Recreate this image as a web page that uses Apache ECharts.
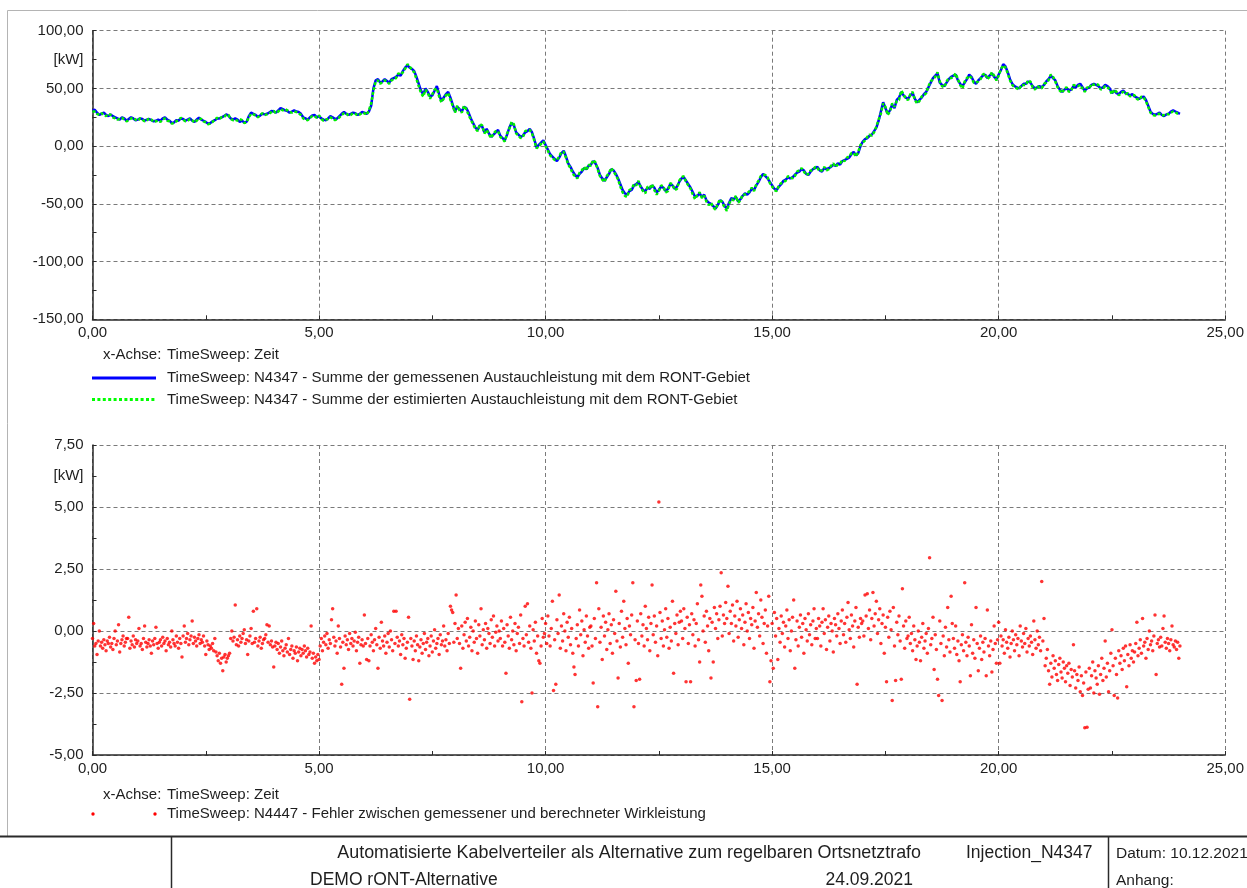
<!DOCTYPE html>
<html>
<head>
<meta charset="utf-8">
<title>TimeSweep N4347</title>
<script src="https://cdn.jsdelivr.net/npm/echarts@6/dist/echarts.min.js"></script>
<style>
  html, body { margin: 0; padding: 0; background: #fff; }
  #chart { width: 1247px; height: 888px; }
</style>
</head>
<body>
<div id="chart"></div>
<script>
// Zeitachse in Stunden
const LINE_STEP_H = 0.05;    // Auflösung der Austauschleistung
const ERROR_STEP_H = 0.025;  // Auflösung des Fehlersignals
const xTicks = [0, 5, 10, 15, 20, 25];

// Summe der gemessenen Austauschleistung [kW], je Zeile eine Stunde, 0,00 h .. 24,00 h
const gemessenKw = [
  31,31.5,29,27,28,29,27,26,27.5,26,25,24,23,25,24,22,23.5,25,24,22.5,
  23,24,23.5,22,23,23.5,22.5,21.5,22,23,22,24,25,23,22,20,20.5,22.5,22,24,
  23.5,22,23,24,22,21,23,24.5,23,22,21,19.5,20,21.5,22.5,24,24,25,26,27.5,
  26.5,24,23,24,23,21,22,20.5,21,26,29,28,27,25.5,26.5,28,27.5,28,29,30.5,
  30,29,31,33,32,31,30.5,29,30,31,30,29.5,28,25,24,23,25,26.5,27,25,
  26,24,23,22.5,24,26,25,23.5,24,26,28,29.5,28,27,28,29,28.5,27,28,29.5,
  29,28,30,35,50,57,58,55,56,58,56.5,55,58,59,60,62,61,65,68,70,
  68,67,65,60,54,48,45,50,47,43,44,48,52,45,39,42,45,47,42,36,
  30,34,32,30,34,33,29,24,20,16,14,18,17,12,15,11,8,10,12,14,
  9,7,5,10,16,20,18,12,10,8,9,12,13,15,12,6,-1,1,3,5,
  1,-3,-7,-9,-11,-13,-10,-6,-4,-9,-15,-18,-22,-25,-27,-24,-22,-19,-20,-17,
  -16,-13,-15,-19,-25,-28,-30,-27,-24,-20,-21,-24,-28,-33,-38,-41,-42,-39,-38,-34,
  -33,-31,-35,-38,-39,-36,-37,-34,-36,-40,-38,-35,-36,-39,-37,-33,-34,-37,-35,-31,
  -28,-27,-30,-33,-36,-40,-44,-43,-41,-44,-42,-47,-49,-50,-52,-54,-51,-47,-48,-52,
  -54,-49,-45,-46,-44,-48,-46,-43,-41,-42,-40,-37,-38,-34,-31,-27,-24,-26,-28,-31,
  -34,-37,-38,-35,-33,-30,-29,-27,-28,-27,-25,-23,-22,-20,-21,-24,-25,-22,-20,-19,
  -18,-21,-22,-19,-20,-19,-18,-16,-17,-15,-16,-13,-12,-11,-10,-7,-5,-8,-6,0,
  4,6,7,9,10,13,16,22,30,38,33,28,31,36,33,40,42,47,44,42,
  41,44,46,41,38,40,42,45,47,51,55,59,61,63,55,53,52,55,58,60,
  61,62,57,54,52,55,58,62,60,56,54,57,59,61,62,59,61,63,60,58,
  62,66,71,69,64,58,54,52,51,50,52,54,54,56,55,52,50,51,52,51,
  53,56,58,61,59,57,52,49,47,49,50,48,49,52,51,53,54,51,48,50,
  51,53,54,53,52,50,51,53,52,50,46,48,46,45,47,48,46,45,44,45,
  43,42,41,42,43,40,35,30,28,27,28,29,27,26,27.5,28,30,31,30,29,
  28
];

// Summe der estimierten Austauschleistung [kW], je Zeile eine Stunde, 0,00 h .. 24,00 h
const estimiertKw = [
  30,30,28,27,28.5,27,26,28,27,25,24,23,23.5,24.5,23,21.5,22.5,24,24.5,23,
  22,24,23,21.5,22.5,24,23,21,21.5,22,21,23.5,24,22,21.5,19.5,20,21.5,22.5,24.5,
  23,21.5,22,23.5,22.5,20.5,22,24,23.5,21.5,20.5,19,19.5,21,23,24.5,23.5,25,25,27,
  27,23.5,22.5,23,22,23.5,22.5,20,20.5,25,28,27.5,26.5,25,27,28.5,27,27.5,28,29.5,
  30.5,28.5,30,32,31,32,31,29.5,29,30,29.5,28.5,27,24,23,22.5,24.5,26,26,24.5,
  26.5,23.5,22,23,23.5,25,24,22.5,23.5,25,27,28.5,28.5,26.5,27,28.5,28,26.5,27.5,29,
  28.5,27,31,37,48,56,57,54,55.5,57,56,54,57,58,59,63,62,64,67,71,
  69,66,64,58,52,46,43,49,46,41,45,49,50,43,38,41,44,46,40,35,
  29,35,31,29,35,32,27,23,19,15,13,19,18,11,14,10,7,11,13,13,
  8,6,4,11,15,21,19,11,9,7,8,13,14,14,11,5,-2,0,2,4,
  0,-4,-8,-10,-12,-12,-9,-5,-5,-10,-16,-19,-24,-26,-28,-23,-21,-18,-21,-16,
  -17,-12,-14,-20,-26,-29,-31,-26,-23,-19,-22,-25,-29,-35,-40,-43,-44,-38,-37,-33,
  -34,-30,-36,-39,-41,-35,-36,-33,-38,-42,-39,-34,-35,-40,-39,-32,-33,-38,-37,-30,
  -27,-26,-31,-34,-37,-42,-46,-42,-40,-45,-43,-48,-51,-49,-53,-55,-50,-46,-49,-53,
  -56,-50,-46,-47,-43,-49,-47,-42,-42,-41,-39,-36,-39,-33,-30,-26,-25,-25,-27,-32,
  -35,-38,-39,-34,-32,-31,-30,-26,-27,-28,-26,-22,-21,-19,-22,-25,-24,-21,-21,-18,
  -19,-22,-21,-18,-21,-20,-17,-15,-18,-16,-15,-12,-13,-10,-9,-6,-6,-9,-5,1,
  3,5,8,10,9,12,17,23,28,37,34,27,30,37,34,39,40,48,45,41,
  40,45,47,40,37,39,43,44,46,52,56,58,60,64,56,52,51,56,59,59,
  60,63,58,53,50,56,59,61,59,55,55,56,58,62,63,58,60,64,61,57,
  61,67,70,68,63,57,53,51,50,49,53,53,53,57,56,51,49,52,51,50,
  54,55,57,62,60,56,51,48,46,50,51,47,48,53,52,52,53,50,47,51,
  50,54,53,54,53,49,50,52,51,49,45,49,47,44,46,47,45,46,43,44,
  44,41,40,43,42,39,34,29,27,26.5,27.5,28,26.5,27,28,27.5,29,30,29.5,28,
  27.5
];

// Fehler zwischen gemessener und berechneter Wirkleistung [kW], je Zeile eine Stunde
const fehlerKw = [
  -0.3,0.3,-0.6,-0.5,-0.95,-0.4,0.0,-0.6,-0.45,-0.7,-0.35,-0.55,-0.8,-0.4,-0.5,-0.25,-0.65,-0.5,-0.75,-0.3,0.0,-0.55,-0.4,0.25,-0.85,-0.5,-0.35,-0.2,-0.6,-0.45,-0.3,-0.3,0.55,-0.7,-0.4,-0.55,-0.2,-0.65,-0.35,-0.5,
  -0.4,0.1,-0.6,-0.5,-0.75,-0.3,0.2,-0.45,-0.65,-0.5,-0.35,-0.6,-0.9,-0.4,-0.55,-0.3,0.15,-0.5,-0.7,-0.45,-0.35,-0.6,-0.25,-0.5,-0.4,-0.8,-0.3,-0.55,-0.45,-0.65,0.0,-0.35,-0.5,-0.6,-0.2,-0.45,-0.7,-0.3,-0.5,-1.05,
  -0.2,0.2,-0.45,-0.3,-0.1,-0.55,-0.35,-0.2,0.4,-0.5,-0.25,-0.4,-0.6,-0.3,-0.15,-0.5,-0.35,-0.45,-0.2,-0.6,-0.95,-0.4,-0.55,-0.75,-0.6,-0.7,-0.5,-0.8,-0.3,-0.85,-1.0,-1.2,-0.9,-1.3,-1.1,-1.6,-1.05,-0.95,-1.25,-1.1,
  -1.0,-0.9,-0.3,0.0,-0.4,-0.25,1.05,-0.55,-0.35,-0.6,-0.2,-0.45,-0.3,-0.1,0.05,-0.5,-0.35,-0.95,-0.4,-0.2,0.1,-0.5,0.8,-0.45,-0.3,0.9,-0.6,-0.4,-0.25,-0.7,-0.5,-0.35,-0.3,-0.15,0.25,-0.45,0.2,-0.55,-0.4,-0.65,
  -1.45,-0.6,-0.45,-0.75,-0.5,-0.9,-0.65,-0.4,-0.8,-1.0,-0.7,-0.55,-0.85,-0.3,-0.95,-0.75,-0.6,-1.1,-0.8,-0.9,-0.65,-1.2,-0.85,-0.7,-1.0,-0.75,-0.9,-0.6,-0.8,-1.05,-0.7,-0.95,-0.85,0.2,-1.1,-0.9,-1.3,-1.05,-1.2,-0.95,
  -1.15,-0.6,-0.3,-0.8,-0.45,-0.2,-0.55,-0.1,-0.7,-0.35,-0.5,0.45,0.9,-0.25,-0.6,-0.4,-0.9,0.2,-0.3,-0.65,-2.15,-0.45,-1.5,-0.2,-0.55,-0.35,-0.75,-0.1,-0.5,-0.3,-0.6,-0.4,-0.05,-0.8,-0.45,-0.25,-1.3,-0.55,-0.35,-0.6,
  0.65,-0.5,-1.15,-0.3,-1.2,-0.6,-0.15,-0.45,-0.8,-0.35,0.1,-0.55,-1.5,-0.25,-0.7,0.35,-0.4,-0.6,-0.2,-0.9,-0.45,-0.1,-0.65,0.0,-0.35,-0.8,0.8,-0.5,0.8,-0.25,-0.6,-0.4,-0.95,-0.15,-0.55,-0.3,-1.1,-0.7,-0.45,0.55,
  -2.75,-0.3,-0.6,-1.15,-0.4,-0.8,-0.2,-0.55,-1.2,-0.65,-0.35,-0.9,-0.5,-0.1,-0.75,-0.45,-0.3,-1.0,-0.6,-0.2,-0.85,-0.4,0.05,-0.7,-0.5,-0.3,-0.95,-0.15,-0.55,-0.4,0.2,-0.6,-0.35,-0.8,-0.1,-0.5,1.0,0.85,0.75,-0.45,
  0.3,1.45,-0.3,0.1,-0.5,-1.5,0.2,-0.7,-0.15,0.35,-0.4,0.5,-0.6,-0.25,0.15,-0.8,0.0,-0.45,0.4,-0.3,-0.9,0.25,-0.2,0.9,-0.55,0.05,-0.35,0.3,-0.7,0.1,-0.1,-0.5,0.45,-0.25,0.6,-0.6,-0.05,0.2,-0.4,0.0,
  -0.3,0.4,-0.6,0.1,-0.45,-1.7,0.25,-0.2,-0.7,0.55,-0.35,0.0,-0.55,0.3,-0.8,-0.1,0.15,-0.5,0.65,-2.85,-0.3,-0.6,1.0,-0.15,1.1,-0.45,0.2,-0.7,-2.5,0.05,-0.4,0.35,-0.9,-0.2,-1.2,-1.3,-0.6,0.5,-0.25,-0.1,
  0.3,-0.5,0.6,-0.2,-0.6,0.1,1.2,-2.4,-0.35,-2.15,0.45,-0.1,1.45,-0.7,0.2,-0.4,0.7,0.0,-0.8,0.35,-0.25,0.55,-0.55,0.1,-0.9,-1.45,-1.75,-0.3,0.25,-0.6,0.85,-0.15,0.4,-1.0,0.05,-0.45,0.6,-0.2,-0.7,0.15,
  0.2,-0.6,-2.1,0.5,-0.3,1.95,-3.05,0.9,-0.45,0.15,-1.15,0.6,-0.2,0.35,-0.75,0.05,0.7,-0.5,0.25,-0.9,0.45,-0.1,1.6,-0.4,-1.9,0.3,-0.65,0.8,-0.25,1.2,0.1,-0.55,0.5,-1.3,0.2,-0.15,0.65,1.95,-3.05,-0.35,
  -2.0,0.4,-0.5,-1.95,0.7,-0.2,0.25,-0.6,1.0,0.1,-0.35,0.55,-0.8,0.3,1.85,-0.15,0.6,-0.45,0.2,-1.0,5.2,0.75,-0.3,0.4,-0.6,0.05,0.9,-0.25,0.5,-0.7,0.15,-0.4,1.2,-1.7,0.3,-0.1,0.65,-0.55,0.35,0.8,
  0.4,-0.3,0.9,0.1,-2.05,0.55,-0.5,0.25,-2.05,0.7,-0.15,0.45,-0.6,0.3,1.1,-0.35,-1.25,1.85,1.4,0.0,0.6,-0.45,0.8,0.2,-0.8,0.5,-1.9,0.35,-1.25,0.95,0.1,0.7,-0.3,0.45,1.0,2.35,-0.2,0.65,0.3,1.15,
  0.5,1.8,-0.1,0.8,0.3,1.05,-0.4,0.6,0.2,1.2,-0.25,0.45,0.9,0.1,0.65,-0.55,0.35,1.1,0.0,0.75,-0.3,0.5,0.25,0.95,-0.7,0.4,1.55,0.15,0.7,-0.2,1.25,0.55,-0.5,0.3,0.85,-0.9,0.2,1.4,-2.05,-1.2,
  0.3,-1.5,0.75,-0.2,0.5,-1.15,0.1,-0.45,0.6,-0.1,0.35,-0.65,0.2,0.85,-0.3,0.45,-0.8,0.0,0.55,1.25,-1.5,-0.35,0.4,-0.6,0.15,0.65,-0.25,0.3,-0.9,0.5,0.05,-0.4,0.7,-0.15,0.25,-0.55,0.4,0.9,-0.3,0.1,
  -0.3,0.5,0.2,-0.6,0.35,0.9,-0.1,0.45,-0.75,0.15,0.6,-0.4,0.3,0.0,-0.85,0.5,0.25,-0.2,0.7,0.1,-0.5,0.4,0.85,-0.15,0.3,-0.45,0.55,1.15,0.05,-0.3,0.65,0.2,-0.65,0.4,0.95,-2.15,0.15,-0.25,0.5,0.3,
  0.4,-0.2,1.45,0.6,1.5,0.1,0.85,-0.35,0.5,1.55,0.2,0.7,1.2,-0.1,0.45,0.9,-0.5,0.3,0.65,-0.9,0.15,-2.05,0.55,-0.25,0.8,0.05,-2.8,0.95,-0.6,-2.0,0.35,-0.15,0.6,-0.4,-1.95,1.7,0.2,-0.7,0.4,-0.3,
  -0.2,0.55,-0.5,-0.1,-0.8,0.2,-0.35,-1.15,-0.6,0.0,-0.45,-1.2,-0.25,0.3,-0.7,-0.4,-0.1,-0.9,0.1,2.95,-0.55,-0.3,0.55,-1.55,-0.15,-0.75,-1.95,-2.6,0.4,-0.5,-2.8,-0.2,-1.0,0.15,-0.65,0.95,-0.35,-0.85,1.4,0.3,
  -0.3,-0.7,0.2,-0.95,-0.4,-1.2,-2.05,-0.55,-0.15,-0.8,1.95,-0.45,-1.0,-0.25,-0.6,-1.8,0.25,-0.9,-0.35,-1.1,0.95,-0.5,-1.6,-0.7,-0.2,-1.15,-0.45,-0.85,-0.3,-1.8,0.85,-0.6,-1.0,-0.4,-1.65,-0.75,0.2,-0.5,-1.3,-0.35,
  0.35,-1.3,-0.2,-0.6,-0.35,-0.9,0.05,-0.45,-0.7,-0.25,-1.05,-0.5,0.0,-0.35,-0.8,-0.15,-0.55,-0.3,-1.0,0.2,-0.4,-0.65,-0.1,-0.5,0.1,-0.85,-0.3,-0.6,-0.2,-0.45,-0.95,0.4,-0.35,-0.7,0.0,-0.55,-0.25,-0.8,2.0,-0.4,
  0.5,-1.4,-1.1,-0.75,-1.6,-2.15,-1.3,-1.85,-1.0,-1.5,-1.2,-1.75,-2.0,-1.35,-1.1,-1.65,-1.9,-1.25,-1.5,-2.05,-1.4,-1.7,-1.3,-2.2,-1.55,-1.85,-0.55,-1.6,-2.3,-1.75,-2.0,-1.45,-2.45,-1.8,-2.6,-2.1,-3.9,-1.65,-3.88,-2.35,
  -1.5,-2.3,-1.8,-1.25,-2.5,-1.6,-1.9,-2.15,-1.4,-2.55,-1.75,-1.1,-2.0,-1.5,-0.4,-1.85,-1.3,-2.45,-1.6,-0.9,0.05,-1.4,-2.6,-1.1,-1.75,-2.7,-0.8,-1.3,-1.0,-1.55,-0.7,-1.2,-0.6,-2.25,-0.95,-1.4,-0.55,-1.1,-0.8,-1.25,
  -0.85,-0.5,0.35,-1.0,-0.7,-0.35,-0.9,0.5,-0.6,-0.45,-1.1,-0.3,-0.75,0.0,-0.55,-0.4,-0.8,-0.2,0.65,-1.75,-0.5,-0.35,-0.65,-0.25,-0.6,0.1,0.6,-0.45,-0.7,-0.3,-0.5,-0.8,-0.35,0.2,-0.55,-0.65,-0.4,-0.75,-0.45,-1.1,
  -0.6
];

// Texte
const xAxisCaption = 'x-Achse:';
const xAxisQuantity = 'TimeSweep: Zeit';
const seriesNames = [
  'TimeSweep: N4347 - Summe der gemessenen Austauchleistung mit dem RONT-Gebiet',
  'TimeSweep: N4347 - Summe der estimierten Austauchleistung mit dem RONT-Gebiet',
  'TimeSweep: N4447 - Fehler zwischen gemessener und berechneter Wirkleistung'
];
const unitLabel = '[kW]';
const footer = {
  title: 'Automatisierte Kabelverteiler als Alternative zum regelbaren Ortsnetztrafo',
  id: 'Injection_N4347',
  date: 'Datum: 10.12.2021',
  project: 'DEMO rONT-Alternative',
  projectDate: '24.09.2021',
  annex: 'Anhang:'
};

const FONT = '"Liberation Sans", Arial, sans-serif';
const TEXT = '#1e1e1e';
const AXIS = '#2a2a2a';
const GRID = '#7a7a7a';

const deNum = v => v.toFixed(2).replace('.', ',');
const toPairs = (arr, step) => arr.map((v, i) => [+(i * step).toFixed(3), v]);

function xAxisDef(gridIndex) {
  return {
    type: 'value', gridIndex, min: xTicks[0], max: xTicks[xTicks.length - 1], interval: 5,
    axisLine: { show: true, onZero: false, lineStyle: { color: AXIS, width: 1.5 } },
    axisTick: { show: true, inside: true, length: 4, lineStyle: { color: AXIS } },
    minorTick: { show: true, splitNumber: 2, length: 4, lineStyle: { color: AXIS } },
    splitLine: { show: true, lineStyle: { color: GRID, type: [4, 3], width: 1 } },
    axisLabel: { formatter: deNum, color: TEXT, fontFamily: FONT, fontSize: 15, margin: 6 }
  };
}

// Achse mit Beschriftung + Teilstrichen (halbes Raster, Einheit an Zwischenmarke)
function yLabelAxis(gridIndex, min, max, step, unitAt) {
  return {
    type: 'value', gridIndex, min, max, interval: step / 2,
    axisLine: { show: true, onZero: false, lineStyle: { color: AXIS, width: 1.5 } },
    axisTick: { show: true, inside: true, length: 4, lineStyle: { color: AXIS } },
    splitLine: { show: false },
    axisLabel: {
      color: TEXT, fontFamily: FONT, fontSize: 15, margin: 9,
      formatter: v => {
        if (Math.abs(v - unitAt) < 1e-9) return unitLabel;
        const r = v / step;
        return Math.abs(r - Math.round(r)) < 1e-9 ? deNum(v) : '';
      }
    }
  };
}
// Achse nur für das gestrichelte Raster
function yGridAxis(gridIndex, min, max, step) {
  return {
    type: 'value', gridIndex, min, max, interval: step,
    axisLine: { show: false }, axisTick: { show: false }, axisLabel: { show: false },
    splitLine: { show: true, lineStyle: { color: GRID, type: [4, 3], width: 1 } }
  };
}

const txt = (x, y, text, opt = {}) => ({
  type: 'text', x, y, silent: true,
  style: Object.assign({ text, fill: TEXT, font: `15px ${FONT}`, textVerticalAlign: 'middle', textAlign: 'left' }, opt)
});
const seg = (x1, y1, x2, y2, stroke, lineWidth = 1, lineDash = null) => ({
  type: 'line', silent: true, shape: { x1, y1, x2, y2 },
  style: { stroke, lineWidth, lineDash }
});

const chart = echarts.init(document.getElementById('chart'), null, { renderer: 'canvas' });
chart.setOption({
  animation: false,
  backgroundColor: '#fff',
  grid: [
    { left: 92.5, right: 21, top: 30.7, height: 288.6 },
    { left: 92.5, right: 21, top: 445, height: 310 }
  ],
  xAxis: [xAxisDef(0), xAxisDef(1)],
  yAxis: [
    yLabelAxis(0, -150, 100, 50, 75),
    yGridAxis(0, -150, 100, 50),
    yLabelAxis(1, -5, 7.5, 2.5, 6.25),
    yGridAxis(1, -5, 7.5, 2.5)
  ],
  series: [
    {
      name: seriesNames[0], type: 'line', xAxisIndex: 0, yAxisIndex: 0,
      data: toPairs(gemessenKw, LINE_STEP_H), showSymbol: false,
      lineStyle: { color: '#0000ff', width: 2.5 }, z: 3
    },
    {
      name: seriesNames[1], type: 'line', xAxisIndex: 0, yAxisIndex: 0,
      data: toPairs(estimiertKw, LINE_STEP_H), showSymbol: false,
      lineStyle: { color: '#00ee00', width: 2.5, type: [3, 2] }, z: 4
    },
    {
      name: seriesNames[2], type: 'scatter', xAxisIndex: 1, yAxisIndex: 2,
      data: toPairs(fehlerKw, ERROR_STEP_H), symbol: 'circle', symbolSize: 3.5,
      itemStyle: { color: '#ff0000' }, z: 3
    }
  ],
  graphic: [
    // Seitenrahmen
    seg(7.5, 10.5, 1247, 10.5, '#b4b4b4', 1),
    seg(7.5, 10.5, 7.5, 836, '#b4b4b4', 1),
    // Legende oben
    txt(103, 355, xAxisCaption),
    txt(167, 355, xAxisQuantity),
    seg(92, 378, 156, 378, '#0000ff', 3),
    txt(167, 378, seriesNames[0]),
    seg(92, 399.5, 156, 399.5, '#00ff00', 3, [3, 2.4]),
    txt(167, 400, seriesNames[1]),
    // Legende unten
    txt(103, 795, xAxisCaption),
    txt(167, 795, xAxisQuantity),
    { type: 'circle', silent: true, shape: { cx: 93, cy: 814, r: 1.7 }, style: { fill: '#ff0000' } },
    { type: 'circle', silent: true, shape: { cx: 155, cy: 814, r: 1.7 }, style: { fill: '#ff0000' } },
    txt(167, 814, seriesNames[2]),
    // Schriftfeld
    seg(0, 836.5, 1247, 836.5, '#2a2a2a', 2),
    seg(171.5, 837, 171.5, 888, '#2a2a2a', 1.5),
    seg(1108.5, 837, 1108.5, 888, '#2a2a2a', 1.5),
    txt(921, 853.5, footer.title, { textAlign: 'right', font: `17.9px ${FONT}` }),
    txt(966, 853.5, footer.id, { font: `17.5px ${FONT}` }),
    txt(1116, 853.5, footer.date, { font: `15.5px ${FONT}` }),
    txt(310, 880.5, footer.project, { font: `17.5px ${FONT}` }),
    txt(913, 880.5, footer.projectDate, { textAlign: 'right', font: `17.5px ${FONT}` }),
    txt(1116, 880.5, footer.annex, { font: `15.5px ${FONT}` })
  ]
});
</script>
</body>
</html>
